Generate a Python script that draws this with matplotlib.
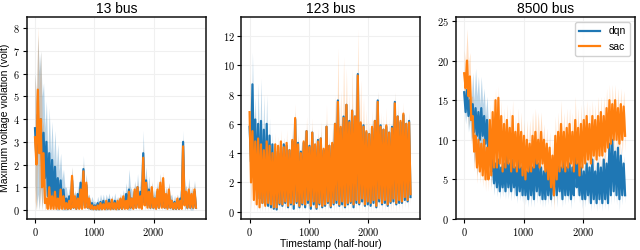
import numpy as np
import matplotlib
matplotlib.use('Agg')
import matplotlib.pyplot as plt
from matplotlib.ticker import MultipleLocator

# panel titles
titles = ['13 bus', '123 bus', '8500 bus']
# one daily high / daily low pair per day, 48 half-hour steps per day
step = 24

# ---- 13 bus ----
bus13_dqn_hi = [3.6, 4.2, 4.0, 3.4, 3.0, 2.5, 2.2, 1.9, 1.4, 1.3,
                0.9, 0.5, 0.6, 1.3, 0.5, 0.7, 1.2, 1.8, 1.1, 0.4,
                0.3, 0.2, 0.3, 0.35, 0.4, 0.3, 0.45, 0.35, 0.4, 0.3,
                0.45, 0.5, 0.7, 0.9, 0.5, 0.8, 1.0, 0.8, 2.5, 1.3,
                0.9, 0.7, 0.5, 0.8, 1.0, 0.9, 0.6, 0.7, 0.4, 0.35,
                0.4, 0.5, 3.0, 0.6, 0.8, 0.5, 0.8]
bus13_dqn_lo = [2.2, 2.6, 2.0, 1.4, 0.6, 0.5, 0.4, 0.3, 0.2, 0.15,
                0.1, 0.05, 0.05, 0.1, 0.05, 0.1, 0.1, 0.2, 0.1, 0.05,
                0.05, 0.03, 0.03, 0.05, 0.05, 0.05, 0.05, 0.05, 0.05, 0.05,
                0.05, 0.1, 0.1, 0.1, 0.1, 0.1, 0.15, 0.1, 0.3, 0.2,
                0.1, 0.1, 0.1, 0.1, 0.15, 0.1, 0.1, 0.1, 0.05, 0.05,
                0.05, 0.1, 0.3, 0.1, 0.1, 0.1, 0.1]
bus13_dqn_sd = [2.5, 3.5, 3.0, 2.2, 1.8, 2.0, 1.7, 1.6, 1.5, 1.2,
                0.9, 0.5, 0.4, 0.6, 0.3, 0.4, 0.5, 0.6, 0.5, 0.3,
                0.3, 0.2, 0.3, 0.35, 0.3, 0.4, 0.3, 0.3, 0.35, 0.3,
                0.3, 0.4, 0.5, 0.9, 0.4, 0.5, 0.6, 0.5, 1.0, 0.6,
                0.6, 0.5, 0.4, 0.5, 0.6, 0.6, 0.4, 0.5, 0.3, 0.3,
                0.3, 0.4, 0.5, 0.5, 0.6, 0.5, 0.5]
bus13_sac_hi = [3.2, 5.3, 4.0, 2.5, 0.5, 1.0, 0.6, 0.8, 0.5, 0.9,
                0.6, 0.3, 0.4, 1.5, 0.6, 0.5, 0.9, 1.7, 1.2, 0.5,
                0.2, 0.15, 0.2, 0.3, 0.25, 0.4, 0.3, 0.45, 0.3, 0.4,
                0.5, 0.6, 0.4, 0.8, 0.5, 0.9, 1.0, 0.6, 2.3, 1.2,
                0.8, 1.0, 0.5, 0.9, 1.2, 1.4, 0.7, 0.9, 0.4, 0.3,
                0.5, 0.4, 2.8, 0.8, 0.9, 0.7, 0.9]
bus13_sac_lo = [2.0, 2.5, 1.0, 0.3, 0.05, 0.05, 0.05, 0.05, 0.05, 0.05,
                0.05, 0.05, 0.05, 0.1, 0.05, 0.05, 0.05, 0.1, 0.1, 0.05,
                0.03, 0.03, 0.03, 0.03, 0.03, 0.05, 0.03, 0.05, 0.03, 0.05,
                0.05, 0.05, 0.05, 0.1, 0.05, 0.1, 0.1, 0.05, 0.2, 0.1,
                0.1, 0.1, 0.05, 0.1, 0.1, 0.1, 0.05, 0.1, 0.05, 0.05,
                0.05, 0.05, 0.2, 0.1, 0.1, 0.1, 0.1]
bus13_sac_sd = [2.8, 2.8, 3.0, 1.2, 0.4, 0.3, 0.3, 0.3, 0.3, 0.3,
                0.3, 0.2, 0.2, 0.4, 0.3, 0.2, 0.3, 0.4, 0.3, 0.2,
                0.1, 0.1, 0.1, 0.15, 0.15, 0.15, 0.15, 0.15, 0.15, 0.15,
                0.2, 0.2, 0.2, 0.3, 0.2, 0.3, 0.3, 0.3, 0.6, 0.4,
                0.3, 0.3, 0.2, 0.3, 0.4, 0.3, 0.3, 0.3, 0.2, 0.2,
                0.2, 0.2, 0.4, 0.3, 0.3, 0.3, 0.3]

# ---- 123 bus ----
bus123_dqn_hi = [5.8, 8.7, 6.3, 6.0, 6.2, 5.6, 6.0, 5.2, 4.6, 4.1,
                 4.0, 4.4, 4.6, 4.5, 4.2, 4.8, 6.3, 4.7, 4.1, 4.7,
                 5.5, 4.5, 5.4, 4.5, 4.9, 5.0, 4.2, 5.8, 4.5, 4.6,
                 6.0, 7.6, 5.7, 6.5, 7.3, 6.2, 6.9, 6.5, 9.4, 6.0,
                 5.9, 5.4, 5.3, 5.7, 6.2, 7.6, 5.9, 5.6, 5.8, 5.4,
                 5.8, 7.5, 6.5, 6.1, 6.6, 6.0, 6.2]
bus123_dqn_lo = [3.4, 3.3, 1.5, 0.9, 0.6, 0.5, 0.4, 0.3, 0.2, 0.15,
                 0.5, 0.4, 0.6, 0.3, 0.5, 0.2, 0.6, 0.3, 0.5, 0.3,
                 0.6, 0.2, 0.5, 0.2, 0.5, 0.3, 0.4, 0.6, 0.3, 0.5,
                 0.6, 0.4, 0.5, 0.3, 0.5, 0.6, 0.3, 0.6, 0.5, 0.7,
                 0.4, 0.5, 0.4, 0.6, 0.3, 0.7, 0.5, 0.6, 0.4, 0.6,
                 0.7, 0.5, 0.6, 0.6, 0.8, 0.7, 1.0]
bus123_dqn_sd = [1.0, 2.2, 1.5, 2.8, 2.9, 2.4, 2.0, 1.2, 0.8, 0.6,
                 0.5, 0.5, 0.5, 0.5, 0.5, 0.5, 0.6, 0.5, 0.5, 0.5,
                 0.5, 0.5, 0.5, 0.5, 0.5, 0.5, 0.5, 0.5, 0.5, 0.5,
                 0.5, 0.6, 0.5, 0.6, 0.5, 0.5, 0.5, 0.5, 0.6, 0.5,
                 0.5, 0.5, 0.5, 0.5, 0.5, 0.6, 0.5, 0.5, 0.5, 0.5,
                 0.5, 0.6, 0.5, 0.5, 0.5, 0.5, 0.5]
bus123_sac_hi = [6.8, 5.5, 4.8, 5.0, 4.6, 4.2, 4.8, 4.5, 4.0, 4.6,
                 4.5, 4.8, 4.4, 4.7, 4.2, 4.9, 6.4, 4.6, 4.0, 4.8,
                 5.5, 4.4, 5.4, 4.6, 4.8, 5.0, 4.3, 5.8, 4.5, 4.7,
                 6.0, 7.5, 5.8, 6.4, 7.3, 6.1, 6.9, 6.5, 9.3, 6.1,
                 5.8, 5.5, 5.3, 5.8, 6.2, 7.5, 5.8, 5.6, 5.9, 5.4,
                 5.7, 7.4, 6.5, 6.2, 6.7, 6.0, 6.1]
bus123_sac_lo = [2.0, 0.8, 0.5, 0.3, 0.6, 0.4, 0.6, 0.5, 0.3, 0.3,
                 0.6, 0.5, 0.7, 0.4, 0.6, 0.5, 0.7, 0.4, 0.6, 0.5,
                 0.8, 0.4, 0.7, 0.3, 0.6, 0.4, 0.5, 0.7, 0.4, 0.6,
                 0.8, 0.5, 0.7, 0.4, 0.6, 0.7, 0.5, 0.8, 0.6, 0.9,
                 0.5, 0.7, 0.6, 0.8, 0.4, 0.9, 0.6, 0.8, 0.5, 0.7,
                 0.9, 0.6, 0.8, 0.7, 1.0, 0.8, 1.2]
bus123_sac_sd = [2.7, 1.5, 1.0, 0.8, 0.7, 0.8, 0.7, 0.6, 0.7, 0.8,
                 0.7, 0.8, 0.7, 0.9, 0.7, 0.8, 1.0, 0.8, 0.7, 0.8,
                 1.0, 0.8, 1.0, 0.7, 0.9, 1.2, 0.8, 1.5, 0.8, 1.0,
                 2.0, 3.7, 2.5, 4.2, 2.5, 2.0, 2.9, 2.0, 3.2, 2.9,
                 2.0, 1.5, 1.0, 1.2, 1.5, 0.8, 1.0, 1.0, 1.2, 1.0,
                 1.0, 0.8, 1.0, 0.8, 0.8, 0.8, 0.8]

# ---- 8500 bus ----
bus8500_dqn_hi = [16.0, 16.3, 15.0, 14.5, 14.0, 13.5, 14.0, 13.0, 12.5, 10.0,
                  7.5, 7.0, 7.5, 6.5, 7.0, 8.0, 7.0, 7.5, 6.5, 7.5,
                  6.5, 7.0, 6.0, 7.5, 6.5, 8.5, 7.0, 6.5, 6.0, 7.0,
                  6.5, 7.0, 8.0, 7.0, 6.5, 7.5, 6.5, 7.0, 6.5, 11.0,
                  7.0, 6.5, 6.0, 7.0, 6.5, 7.5, 6.0, 7.0, 6.5, 7.5,
                  7.0, 9.5, 10.0, 8.5, 9.0, 8.0, 7.0]
bus8500_dqn_lo = [13.5, 13.0, 12.5, 11.0, 10.5, 10.0, 10.5, 9.5, 9.0, 6.0,
                  4.5, 4.0, 3.5, 4.0, 3.5, 4.0, 3.5, 4.0, 3.0, 3.5,
                  3.0, 3.0, 2.5, 3.0, 2.5, 3.5, 3.0, 2.5, 2.5, 3.0,
                  2.5, 3.0, 3.0, 3.5, 2.5, 3.0, 3.0, 2.5, 3.0, 4.0,
                  3.0, 2.5, 2.5, 3.0, 2.0, 2.5, 2.0, 2.5, 2.0, 2.5,
                  2.0, 3.0, 3.5, 3.0, 2.5, 3.0, 3.0]
bus8500_dqn_sd = [1.5, 2.0, 2.5, 4.0, 5.0, 4.5, 4.0, 3.5, 3.0, 2.0,
                  1.5, 1.2, 1.0, 1.2, 1.0, 1.5, 1.2, 1.5, 1.0, 1.2,
                  1.0, 1.2, 1.0, 1.5, 1.0, 1.5, 1.2, 1.0, 1.0, 1.2,
                  1.0, 1.2, 1.5, 1.2, 1.0, 1.2, 1.0, 1.2, 1.0, 1.2,
                  1.0, 1.2, 1.0, 1.2, 1.0, 1.2, 1.0, 1.2, 1.0, 1.2,
                  1.0, 1.2, 1.5, 1.2, 1.5, 1.2, 1.0]
bus8500_sac_hi = [18.4, 20.0, 18.0, 13.0, 10.5, 10.0, 9.5, 10.0, 9.0, 12.5,
                  13.5, 15.0, 15.3, 13.0, 12.0, 12.5, 11.5, 13.0, 11.0, 12.0,
                  11.0, 10.5, 10.0, 9.5, 10.5, 11.0, 10.0, 11.0, 10.0, 9.5,
                  9.0, 8.0, 10.5, 11.0, 12.0, 11.0, 11.5, 12.0, 11.0, 12.5,
                  11.5, 12.0, 12.5, 13.0, 12.0, 13.0, 12.5, 13.0, 13.5, 13.0,
                  14.0, 15.0, 14.5, 15.0, 14.0, 14.5, 14.2]
bus8500_sac_lo = [16.5, 15.5, 12.5, 8.5, 6.5, 6.0, 5.5, 5.0, 5.0, 5.5,
                  6.5, 6.5, 7.0, 6.0, 6.5, 7.0, 6.0, 6.5, 6.0, 6.5,
                  5.5, 5.0, 6.0, 6.0, 6.5, 7.0, 6.5, 7.0, 6.0, 5.0,
                  4.0, 3.0, 5.0, 6.0, 6.5, 6.0, 6.5, 7.0, 6.0, 7.0,
                  5.5, 6.5, 7.0, 7.5, 7.0, 8.0, 7.5, 8.0, 8.0, 8.5,
                  9.0, 9.5, 10.0, 10.0, 9.5, 10.0, 10.5]
bus8500_sac_sd = [3.0, 4.0, 3.0, 2.5, 2.0, 1.5, 1.5, 1.5, 1.5, 2.0,
                  2.0, 1.5, 1.5, 2.0, 2.0, 2.0, 2.5, 2.0, 2.0, 2.0,
                  2.5, 2.0, 2.5, 3.0, 3.0, 3.0, 3.5, 2.5, 2.0, 2.0,
                  2.0, 2.0, 2.5, 2.5, 3.0, 2.5, 2.5, 2.0, 2.5, 3.0,
                  2.5, 2.5, 2.0, 2.0, 2.5, 2.0, 2.0, 2.5, 2.0, 2.5,
                  2.5, 2.0, 2.5, 2.0, 2.5, 2.0, 2.0]

panels = [
    (bus13_dqn_hi, bus13_dqn_lo, bus13_dqn_sd, bus13_sac_hi, bus13_sac_lo, bus13_sac_sd),
    (bus123_dqn_hi, bus123_dqn_lo, bus123_dqn_sd, bus123_sac_hi, bus123_sac_lo, bus123_sac_sd),
    (bus8500_dqn_hi, bus8500_dqn_lo, bus8500_dqn_sd, bus8500_sac_hi, bus8500_sac_lo, bus8500_sac_sd),
]
ylims = [(-0.4, 8.5), (-0.5, 13.3), (0, 25.5)]
ysteps = [1, 2, 5]

plt.rcParams['font.family'] = ['Liberation Sans', 'DejaVu Sans']
plt.rcParams['axes.formatter.use_mathtext'] = True


def draw(ax, hi, lo, sd, color, label, alpha):
    # interleave daily high and low into one series
    y = np.column_stack([hi, lo]).ravel()
    s = np.repeat(sd, 2)
    x = np.arange(len(y)) * step
    ax.fill_between(x, np.clip(y - s, 0, None), y + s, color=color, alpha=alpha, lw=0)
    ax.plot(x, y, color=color, lw=1.6, label=label)


fig, axes = plt.subplots(1, 3, figsize=(6.4, 2.5), dpi=100)
plt.subplots_adjust(left=0.042, right=0.992, bottom=0.124, top=0.932, wspace=0.2)

for ax, title, data, yl, ys in zip(axes, titles, panels, ylims, ysteps):
    dh, dl, ds, sh, sl, ss = data
    draw(ax, dh, dl, ds, '#1f77b4', 'dqn', 0.3)
    draw(ax, sh, sl, ss, '#ff7f0e', 'sac', 0.25)
    ax.set_xlim(-137, 2877)
    ax.set_ylim(*yl)
    ax.xaxis.set_major_locator(MultipleLocator(1000))
    ax.yaxis.set_major_locator(MultipleLocator(ys))
    ax.grid(True, color='#f0f0f0', lw=0.8)
    ax.set_axisbelow(True)
    for sp in ax.spines.values():
        sp.set_color('#111111')
        sp.set_linewidth(1.1)
    ax.tick_params(labelsize=7.5, labelfontfamily='cmr10', length=3, width=0.8, pad=2)
    ax.set_title(title, fontsize=10, pad=3)

axes[0].set_ylabel('Maximum voltage violation (volt)', fontsize=7.5, labelpad=2)
axes[1].set_xlabel('Timestamp (half-hour)', fontsize=7.5, labelpad=1)
axes[2].legend(loc='upper right', fontsize=7.5, framealpha=0.9, borderpad=0.4)

plt.savefig('out.png', dpi=100)
